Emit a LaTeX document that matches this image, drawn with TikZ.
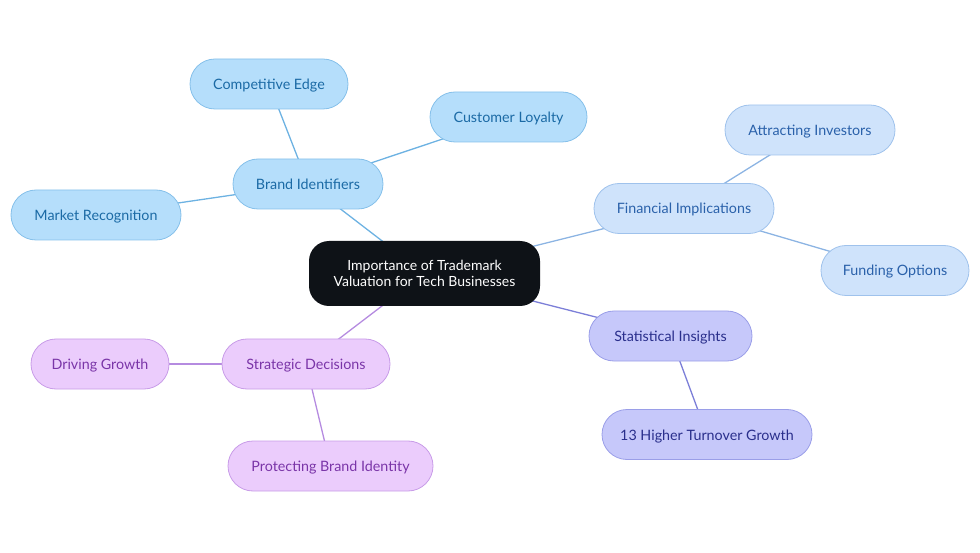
\documentclass[tikz,border=0pt]{standalone}
\usepackage{fontspec}
\setmainfont{Lato}
\usetikzlibrary{backgrounds}
\definecolor{bfill}{HTML}{B5DEFB}
\definecolor{bdraw}{HTML}{85C0EA}
\definecolor{btext}{HTML}{1B6AA5}
\definecolor{bline}{HTML}{6DB2E2}
\definecolor{ffill}{HTML}{CFE3FB}
\definecolor{fdraw}{HTML}{9FC2EC}
\definecolor{ftext}{HTML}{2A61AA}
\definecolor{fline}{HTML}{8CB4E3}
\definecolor{sfill}{HTML}{C6C8FA}
\definecolor{sdraw}{HTML}{9A9EE8}
\definecolor{stext}{HTML}{2A2F8C}
\definecolor{sline}{HTML}{7C7FD8}
\definecolor{pfill}{HTML}{EBCCFC}
\definecolor{pdraw}{HTML}{C89CE8}
\definecolor{ptext}{HTML}{7A35A8}
\definecolor{pline}{HTML}{B58BE0}
\definecolor{cfill}{HTML}{0E1217}
\tikzset{
  pill/.style={rounded corners=25pt, minimum height=50pt, inner sep=0pt, text height=12pt, text depth=1pt, font=\fontsize{14.3}{17}\selectfont, line width=0.8pt},
  bnode/.style={pill, fill=bfill, draw=bdraw, text=btext},
  fnode/.style={pill, fill=ffill, draw=fdraw, text=ftext},
  snode/.style={pill, fill=sfill, draw=sdraw, text=stext},
  pnode/.style={pill, fill=pfill, draw=pdraw, text=ptext},
  cnode/.style={rounded corners=20pt, minimum height=65pt, minimum width=231pt, inner sep=0pt, fill=cfill, text=white, align=center, font=\fontsize{14}{15.5}\selectfont},
  conn/.style={line width=1.3pt}
}
\begin{document}
\begin{tikzpicture}[x=1pt,y=-1pt]
\useasboundingbox (0,0) rectangle (980,553);
\node[cnode] (c) at (424.5,273.5) {Importance of Trademark\\Valuation for Tech Businesses};
\node[bnode, minimum width=158pt] (ce) at (269,84) {Competitive Edge};
\node[bnode, minimum width=157pt] (cl) at (508.5,117) {Customer Loyalty};
\node[bnode, minimum width=150pt] (bi) at (308,184) {Brand Identifiers};
\node[bnode, minimum width=170pt] (mr) at (96,215) {Market Recognition};
\node[fnode, minimum width=170pt] (ai) at (810,130) {Attracting Investors};
\node[fnode, minimum width=180pt] (fi) at (684,208.5) {Financial Implications};
\node[fnode, minimum width=148pt] (fo) at (895,270.5) {Funding Options};
\node[snode, minimum width=163pt] (si) at (670.5,336) {Statistical Insights};
\node[snode, minimum width=210pt] (ht) at (707,434.5) {13 Higher Turnover Growth};
\node[pnode, minimum width=168pt] (sd) at (306,364) {Strategic Decisions};
\node[pnode, minimum width=138pt] (dg) at (100,364) {Driving Growth};
\node[pnode, minimum width=205pt] (pb) at (330.5,466) {Protecting Brand Identity};
\begin{scope}[on background layer]
\draw[conn, bline] (c.center) -- (bi.center);
\draw[conn, bline] (bi.center) -- (ce.center);
\draw[conn, bline] (bi.center) -- (cl.center);
\draw[conn, bline] (bi.center) -- (mr.center);
\draw[conn, fline] (c.center) -- (fi.center);
\draw[conn, fline] (fi.center) -- (ai.center);
\draw[conn, fline] (fi.center) -- (fo.center);
\draw[conn, sline] (c.center) -- (si.center);
\draw[conn, sline] (si.center) -- (ht.center);
\draw[conn, pline] (c.center) -- (sd.center);
\draw[conn, pline] (sd.center) -- (dg.center);
\draw[conn, pline] (sd.center) -- (pb.center);
\end{scope}
\end{tikzpicture}
\end{document}
